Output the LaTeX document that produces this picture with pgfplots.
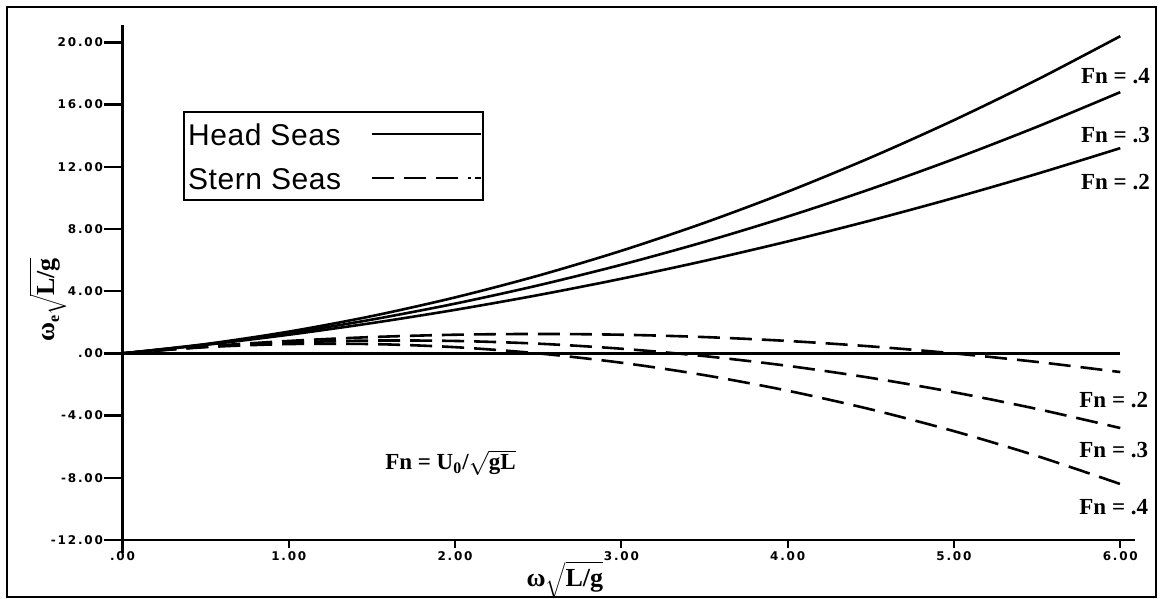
\documentclass[border=0pt]{standalone}
\usepackage{pgfplots}
\pgfplotsset{compat=1.18}
\usepackage{fontspec}
\setmainfont{Liberation Serif}
\newfontfamily\legfont[LetterSpace=2]{Liberation Sans}
\newfontfamily\tickfont[LetterSpace=15]{DejaVu Sans}
\begin{document}
\begin{tikzpicture}
\begin{axis}[
  x=83.15pt, y=7.775pt,
  xmin=0, xmax=6.09, ymin=-12, ymax=21.1,
  enlargelimits=false,
  clip=false,
  axis lines=left,
  axis line style={-, line width=1.2pt},
  major tick length=0pt,
  xtick={0,1,2,3,4,5,6},
  xticklabels={.00,1.00,2.00,3.00,4.00,5.00,6.00},
  ytick={-12,-8,-4,0,4,8,12,16,20},
  yticklabels={-12.00,-8.00,-4.00,.00,4.00,8.00,12.00,16.00,20.00},
  ticklabel style={font=\tickfont\bfseries\fontsize{6}{7}\selectfont},
  yticklabel style={xshift=-9pt, inner xsep=0.6pt},
  xticklabel style={inner ysep=0pt, yshift=-5.5pt},
  legend cell align=left,
  legend plot pos=right,
  legend image code/.code={\path (0pt,0pt) -- (54.5pt,0pt); \draw[#1] (0pt,0pt) -- (50pt,0pt);},
  legend style={at={(axis cs:0.364,15.59)}, anchor=north west,
    draw=black, line width=1pt, font=\legfont\fontsize{15}{17}\selectfont,
    inner xsep=0pt, inner ysep=0pt, row sep=0pt,
    nodes={text height=15pt, text depth=3pt}},
]
\addlegendimage{black, line width=1.2pt}
\addlegendentry{Head Seas\hspace*{13pt}}
\addlegendimage{black, line width=1.2pt, dash pattern=on 11pt off 5pt on 11pt off 5pt on 11pt off 5pt on 1.5pt off 2pt}
\addlegendentry{Stern Seas\hspace*{13pt}}

% head seas
\addplot[black, line width=1.3pt, smooth, forget plot] coordinates {
(0,0) (0.5,0.55) (1,1.2) (1.5,1.95) (2,2.8) (2.5,3.75) (3,4.8) (3.5,5.95) (4,7.2) (4.5,8.55) (5,10) (5.5,11.55) (6,13.2)};
\addplot[black, line width=1.3pt, smooth, forget plot] coordinates {
(0,0) (0.5,0.575) (1,1.3) (1.5,2.175) (2,3.2) (2.5,4.375) (3,5.7) (3.5,7.175) (4,8.8) (4.5,10.575) (5,12.5) (5.5,14.575) (6,16.8)};
\addplot[black, line width=1.3pt, smooth, forget plot] coordinates {
(0,0) (0.5,0.6) (1,1.4) (1.5,2.4) (2,3.6) (2.5,5) (3,6.6) (3.5,8.4) (4,10.4) (4.5,12.6) (5,15) (5.5,17.6) (6,20.4)};
% stern seas
\addplot[black, line width=1.3pt, smooth, dash pattern=on 11pt off 5pt, forget plot] coordinates {
(0,0) (0.5,0.45) (1,0.8) (1.5,1.05) (2,1.2) (2.5,1.25) (3,1.2) (3.5,1.05) (4,0.8) (4.5,0.45) (5,0) (5.5,-0.55) (6,-1.2)};
\addplot[black, line width=1.3pt, smooth, dash pattern=on 11pt off 5pt, forget plot] coordinates {
(0,0) (0.5,0.425) (1,0.7) (1.5,0.825) (2,0.8) (2.5,0.625) (3,0.3) (3.5,-0.175) (4,-0.8) (4.5,-1.575) (5,-2.5) (5.5,-3.575) (6,-4.8)};
\addplot[black, line width=1.3pt, smooth, dash pattern=on 11pt off 5pt, forget plot] coordinates {
(0,0) (0.5,0.4) (1,0.6) (1.5,0.6) (2,0.4) (2.5,0) (3,-0.6) (3.5,-1.4) (4,-2.4) (4.5,-3.6) (5,-5) (5.5,-6.6) (6,-8.4)};
% zero line
\addplot[black, line width=1.2pt, forget plot] coordinates {(0,0) (6,0)};

\draw[line width=1.2pt] (axis cs:0,-12) -- (axis cs:0,-12.85);
% y ticks
\draw[line width=1.2pt] (axis cs:0,20) -- ++(-9pt,0pt);
\draw[line width=1.2pt] (axis cs:0,16) -- ++(-9pt,0pt);
\draw[line width=1.2pt] (axis cs:0,12) -- ++(-9pt,0pt);
\draw[line width=1.2pt] (axis cs:0,8) -- ++(-9pt,0pt);
\draw[line width=1.2pt] (axis cs:0,4) -- ++(-9pt,0pt);
\draw[line width=1.2pt] (axis cs:0,0) -- ++(-9pt,0pt);
\draw[line width=1.2pt] (axis cs:0,-4) -- ++(-9pt,0pt);
\draw[line width=1.2pt] (axis cs:0,-8) -- ++(-9pt,0pt);
\draw[line width=1.2pt] (axis cs:0,-12) -- ++(-9pt,0pt);
% x ticks
\draw[line width=0.9pt] (axis cs:1,-12) -- ++(0pt,-4pt);
\draw[line width=0.9pt] (axis cs:2,-12) -- ++(0pt,-4pt);
\draw[line width=0.9pt] (axis cs:3,-12) -- ++(0pt,-4pt);
\draw[line width=0.9pt] (axis cs:4,-12) -- ++(0pt,-4pt);
\draw[line width=0.9pt] (axis cs:5,-12) -- ++(0pt,-4pt);
\draw[line width=0.9pt] (axis cs:6,-12) -- ++(0pt,-4pt);

\begin{scope}[every node/.style={font=\bfseries\fontsize{11.5}{13}\selectfont, inner sep=0pt}]
\node[anchor=east] at (axis cs:6.18,17.84) {Fn = .4};
\node[anchor=east] at (axis cs:6.18,14.05) {Fn = .3};
\node[anchor=east] at (axis cs:6.18,11.02) {Fn = .2};
\node[anchor=east] at (axis cs:6.17,-3.0) {Fn = .2};
\node[anchor=east] at (axis cs:6.17,-6.21) {Fn = .3};
\node[anchor=east] at (axis cs:6.17,-9.86) {Fn = .4};
\node[anchor=west] at (axis cs:1.578,-7.05) {Fn = U$_{\mbox{\fontsize{8}{8}\selectfont\bfseries 0}}$/$\sqrt{\mbox{\bfseries gL}}$};
\end{scope}

\node[font=\fontsize{13}{15}\selectfont, inner sep=0pt] at (axis cs:2.66,-14.57) {\textbf{ω}$\sqrt{\mbox{\bfseries L/g}}$};
\node[font=\fontsize{13}{15}\selectfont, inner sep=0pt, rotate=90] at (axis cs:-0.448,3.43) {\textbf{ω}\raisebox{-0.35ex}{\fontsize{8}{8}\selectfont\bfseries e}$\sqrt{\mbox{\bfseries L/g}}$};

\draw[line width=1.2pt] (axis cs:-0.6945,-15.666) rectangle (axis cs:6.2147,22.277);

\coordinate (BL) at (axis cs:-0.7366,-15.79);
\coordinate (TR) at (axis cs:6.239,22.727);
\end{axis}
\pgfresetboundingbox
\path (BL) rectangle (TR);
\end{tikzpicture}
\end{document}
